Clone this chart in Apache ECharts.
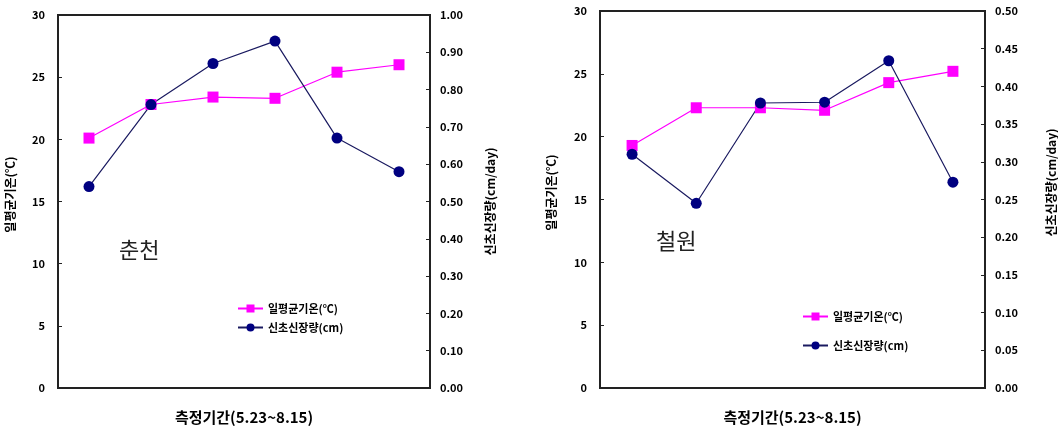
<!DOCTYPE html>
<html>
<head>
<meta charset="utf-8">
<script src="https://cdn.jsdelivr.net/npm/echarts@6/dist/echarts.min.js"></script>
<style>
  html, body { margin: 0; padding: 0; background: #fff; }
  #chart { width: 1058px; height: 430px; }
</style>
</head>
<body>
<div id="chart"></div>
<script>
// measurement periods (5.23 ~ 8.15), no labels shown on the axis
const periods = ['1', '2', '3', '4', '5', '6'];

// 춘천
const chuncheonTemp = [20.1, 22.8, 23.4, 23.3, 25.4, 26.0];
const chuncheonShoot = [0.54, 0.76, 0.87, 0.93, 0.67, 0.58];

// 철원
const cheorwonTemp = [19.3, 22.3, 22.3, 22.1, 24.3, 25.2];
const cheorwonShoot = [0.31, 0.245, 0.378, 0.379, 0.434, 0.273];

const tempName = '일평균기온(℃)';
const shootName = '신초신장량(cm)';
const font = '"Noto Sans CJK KR", "DejaVu Sans", sans-serif';

const chart = echarts.init(document.getElementById('chart'));

// shared axis look; shift moves the rotated name up a bit
function yAxis(gridIndex, pos, max, interval, name, gap, digits, shift) {
  return {
    type: 'value',
    gridIndex: gridIndex,
    position: pos,
    min: 0,
    max: max,
    interval: interval,
    name: name,
    nameLocation: 'middle',
    nameRotate: 90,
    nameGap: gap,
    nameTextStyle: {
      fontFamily: font, fontWeight: 'bold', fontSize: 12, color: '#000',
      padding: [0, 0, 0, shift * 2]
    },
    axisLine: { show: true, lineStyle: { color: '#222', width: 2 } },
    axisTick: { show: true, inside: true, length: 4, lineStyle: { color: '#222' } },
    axisLabel: {
      fontFamily: font, fontWeight: 'bold', fontSize: 11, color: '#000',
      margin: pos === 'left' ? 13 : 10,
      formatter: v => v.toFixed(digits)
    },
    splitLine: { show: false }
  };
}

function xAxis(gridIndex) {
  return {
    type: 'category',
    gridIndex: gridIndex,
    data: periods,
    boundaryGap: true,
    name: '측정기간(5.23~8.15)',
    nameLocation: 'middle',
    nameGap: 22,
    nameTextStyle: { fontFamily: font, fontWeight: 'bold', fontSize: 15, color: '#000' },
    axisLine: { show: true, lineStyle: { color: '#222', width: 2 } },
    axisTick: { show: false },
    axisLabel: { show: false }
  };
}

function tempSeries(x, y, data) {
  return {
    name: tempName, type: 'line', xAxisIndex: x, yAxisIndex: y, data: data,
    symbol: 'rect', symbolSize: 11,
    itemStyle: { color: '#ff00ff' },
    lineStyle: { color: '#ff00ff', width: 1.2 }
  };
}

function shootSeries(x, y, data) {
  return {
    name: shootName, type: 'line', xAxisIndex: x, yAxisIndex: y, data: data,
    symbol: 'circle', symbolSize: 11,
    itemStyle: { color: '#000080' },
    lineStyle: { color: '#1a1a60', width: 1.2 }
  };
}

const legendBase = {
  orient: 'vertical',
  itemWidth: 25,
  itemHeight: 10,
  textStyle: { fontFamily: font, fontWeight: 'bold', fontSize: 11, color: '#000' },
  data: [tempName, shootName]
};

const option = {
  backgroundColor: '#fff',
  animation: false,
  title: [
    { text: '춘천', left: 114, top: 234, textStyle: { fontFamily: font, fontWeight: 'normal', fontSize: 22, color: '#222' } },
    { text: '철원', left: 651, top: 225, textStyle: { fontFamily: font, fontWeight: 'normal', fontSize: 22, color: '#222' } }
  ],
  legend: [
    Object.assign({}, legendBase, { left: 232, top: 298, itemGap: 8 }),
    Object.assign({}, legendBase, { left: 797, top: 306, itemGap: 18 })
  ],
  grid: [
    { left: 58, right: 628, top: 15, bottom: 40, show: true, borderColor: '#222', borderWidth: 2, backgroundColor: '#fff' },
    { left: 600, right: 69, top: 11, bottom: 41, show: true, borderColor: '#222', borderWidth: 2, backgroundColor: '#fff' }
  ],
  xAxis: [xAxis(0), xAxis(1)],
  yAxis: [
    yAxis(0, 'left', 30, 5, '일평균기온(℃)', 42, 0, 7),
    yAxis(0, 'right', 1, 0.1, '신초신장량(cm/day)', 54, 2, 0),
    yAxis(1, 'left', 30, 5, '일평균기온(℃)', 43, 0, 7),
    yAxis(1, 'right', 0.5, 0.05, '신초신장량(cm/day)', 60, 2, 17)
  ],
  series: [
    tempSeries(0, 0, chuncheonTemp),
    shootSeries(0, 1, chuncheonShoot),
    tempSeries(1, 2, cheorwonTemp),
    shootSeries(1, 3, cheorwonShoot)
  ]
};

chart.setOption(option);
</script>
</body>
</html>
